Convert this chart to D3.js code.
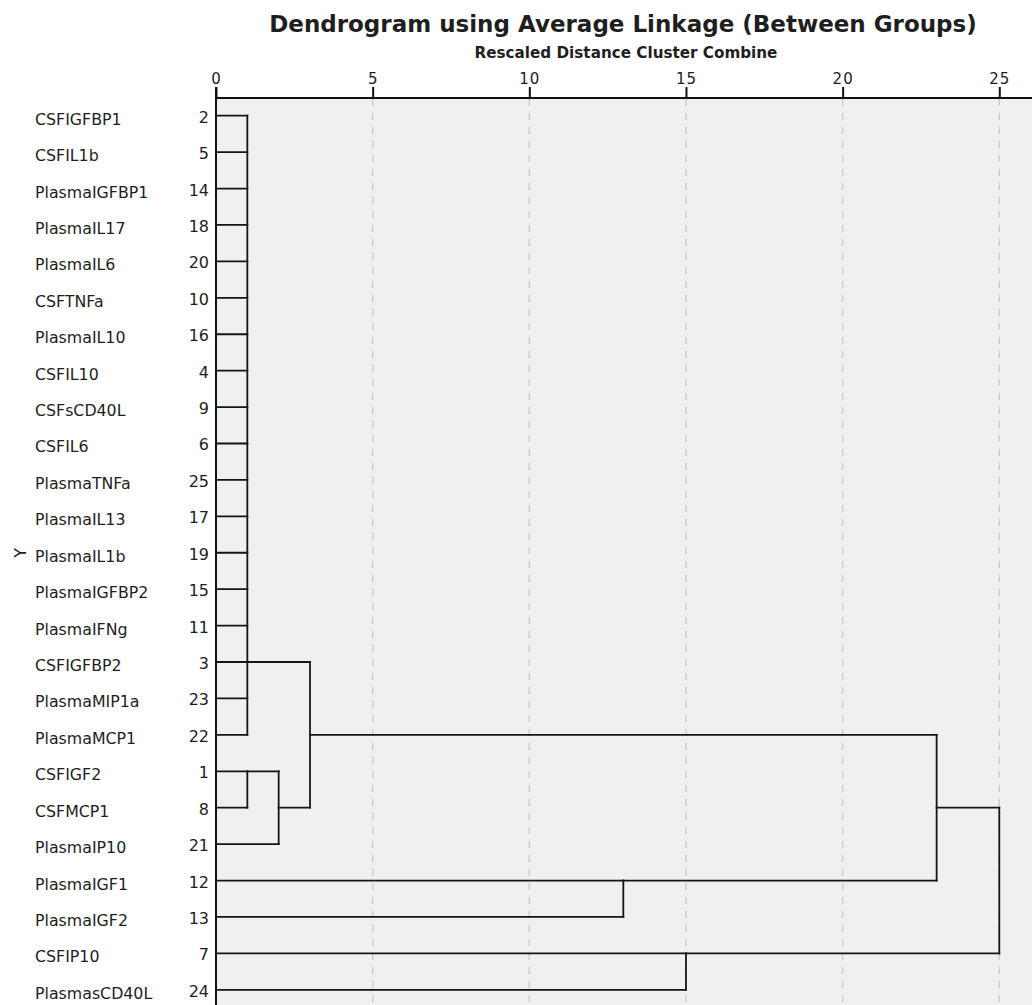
<!DOCTYPE html>
<html>
<head>
<meta charset="utf-8">
<script src="https://cdn.jsdelivr.net/npm/d3@7"></script>
<style>
  html, body { margin: 0; padding: 0; background: #fff; }
  svg { display: block; }
  text { font-family: "DejaVu Sans", sans-serif; fill: #1e1e1e; }
</style>
</head>
<body>
<svg id="chart" width="1032" height="1005"></svg>
<script>
// ---- data ----
const leafLabels = ["CSFIGFBP1","CSFIL1b","PlasmaIGFBP1","PlasmaIL17","PlasmaIL6","CSFTNFa","PlasmaIL10","CSFIL10","CSFsCD40L","CSFIL6","PlasmaTNFa","PlasmaIL13","PlasmaIL1b","PlasmaIGFBP2","PlasmaIFNg","CSFIGFBP2","PlasmaMIP1a","PlasmaMCP1","CSFIGF2","CSFMCP1","PlasmaIP10","PlasmaIGF1","PlasmaIGF2","CSFIP10","PlasmasCD40L"];
const caseNumbers = [2,5,14,18,20,10,16,4,9,6,25,17,19,15,11,3,23,22,1,8,21,12,13,7,24];
const axisTicks = [0,5,10,15,20,25];
// cluster merges: id, children (case numbers or cluster ids), rescaled distance, case row where the joined branch continues
const mergeIds      = ["A","B","C","D","E","F","G","H"];
const mergeChildren = [
  [2,5,14,18,20,10,16,4,9,6,25,17,19,15,11,3,23,22],
  [1,8],
  ["B",21],
  ["A","C"],
  [12,13],
  ["D","E"],
  [7,24],
  ["F","G"]
];
const mergeDistance = [1,1,2,3,13,23,15,25];
const mergeAnchor   = [3,1,8,22,12,8,7,null];
const titleText = "Dendrogram using Average Linkage (Between Groups)";
const subtitleText = "Rescaled Distance Cluster Combine";
const yAxisLabel = "Y";

// ---- layout ----
const svg = d3.select("#chart");
const plotLeft = 216, plotRight = 1032, axisY = 98, bottom = 1005;

const x = d3.scaleLinear().domain([0, 25]).range([plotLeft, 999.3]);
const y = d3.scalePoint().domain(caseNumbers).range([115.7, 989.8]);

// background
svg.append("rect")
  .attr("x", plotLeft).attr("y", axisY)
  .attr("width", plotRight - plotLeft).attr("height", bottom - axisY)
  .attr("fill", "#f0f0f0");

// grid lines
svg.append("g").selectAll("line")
  .data(axisTicks.filter(t => t > 0))
  .join("line")
  .attr("x1", d => x(d)).attr("x2", d => x(d))
  .attr("y1", axisY + 1).attr("y2", bottom)
  .attr("stroke", "#cdcdcd").attr("stroke-width", 1.5)
  .attr("stroke-dasharray", "7,7");

// top axis
const axis = d3.axisTop(x).tickValues(axisTicks).tickSize(11).tickPadding(3).tickFormat(d3.format("d"));
const gAxis = svg.append("g").attr("transform", `translate(0,${axisY})`).call(axis);
gAxis.select(".domain").remove();
gAxis.selectAll(".tick line").attr("stroke", "#111").attr("stroke-width", 2);
gAxis.selectAll(".tick text")
  .style("font-family", "DejaVu Sans, sans-serif")
  .style("font-size", "15px").attr("fill", "#222")
  .attr("letter-spacing", "1px");
svg.append("line")
  .attr("x1", plotLeft - 1).attr("x2", plotRight)
  .attr("y1", axisY).attr("y2", axisY)
  .attr("stroke", "#111").attr("stroke-width", 2);
svg.append("line")
  .attr("x1", plotLeft).attr("x2", plotLeft)
  .attr("y1", axisY - 11).attr("y2", bottom)
  .attr("stroke", "#111").attr("stroke-width", 2);

// titles
svg.append("text").attr("x", 623).attr("y", 32)
  .attr("text-anchor", "middle")
  .style("font-weight", "bold").style("font-size", "23px")
  .text(titleText);
svg.append("text").attr("x", 626).attr("y", 58)
  .attr("text-anchor", "middle")
  .style("font-weight", "bold").style("font-size", "15.2px")
  .text(subtitleText);

// y label
svg.append("text")
  .attr("transform", `translate(20,${y(19)}) rotate(-90)`)
  .attr("text-anchor", "middle")
  .attr("dy", "0.35em")
  .style("font-size", "16px")
  .text(yAxisLabel);

// leaf labels and case numbers
svg.append("g").selectAll("text")
  .data(leafLabels)
  .join("text")
  .attr("x", 35)
  .attr("y", (d, i) => y(caseNumbers[i]) + 9)
  .style("font-size", "15.8px").attr("fill", "#2a2a2a")
  .text(d => d);
svg.append("g").selectAll("text")
  .data(caseNumbers)
  .join("text")
  .attr("x", 209)
  .attr("y", d => y(d) + 7)
  .attr("text-anchor", "end")
  .style("font-size", "16px").attr("fill", "#1e1e1e")
  .text(d => d);

// dendrogram
const info = {};
caseNumbers.forEach(c => { info[c] = { h: 0, anchor: c }; });
const segs = [];
mergeIds.forEach((id, k) => {
  const h = mergeDistance[k];
  const kids = mergeChildren[k].map(c => info[c]);
  const ys = kids.map(c => y(c.anchor));
  segs.push({ x1: x(h), x2: x(h), y1: d3.min(ys), y2: d3.max(ys) });
  kids.forEach(c => {
    segs.push({ x1: x(c.h), x2: x(h), y1: y(c.anchor), y2: y(c.anchor) });
  });
  info[id] = { h: h, anchor: mergeAnchor[k] };
});
svg.append("g").selectAll("line")
  .data(segs)
  .join("line")
  .attr("x1", d => d.x1).attr("x2", d => d.x2)
  .attr("y1", d => d.y1).attr("y2", d => d.y2)
  .attr("stroke", "#151515").attr("stroke-width", 1.8)
  .attr("stroke-linecap", "square");
</script>
</body>
</html>
